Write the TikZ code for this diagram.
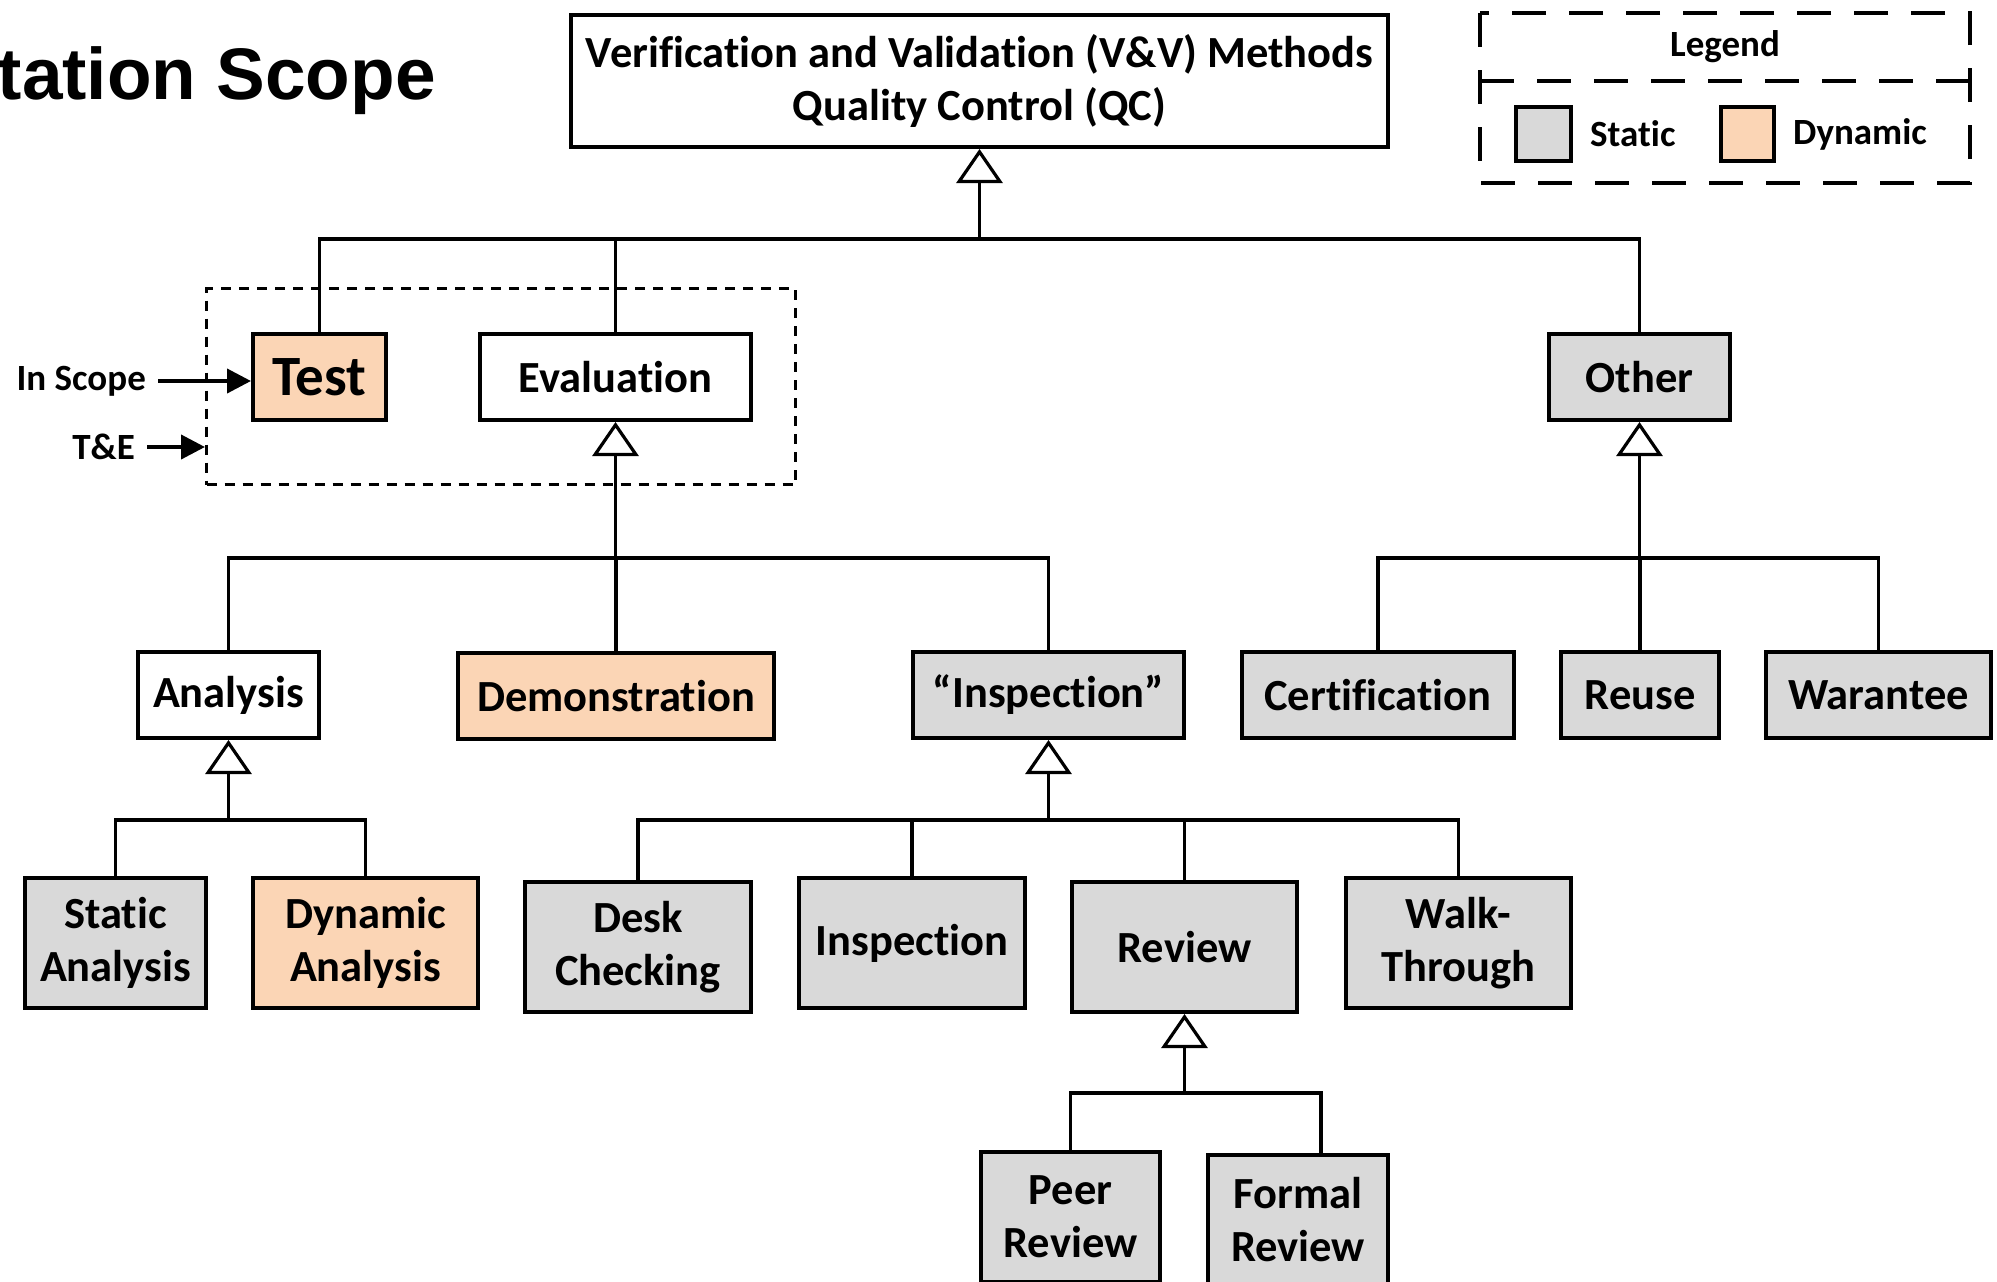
\documentclass[tikz,border=0pt]{standalone}
\usepackage{fontspec}
\setmainfont{Carlito}[Ligatures=NoCommon]
\newfontfamily\titlefont{Liberation Sans}
\usetikzlibrary{arrows.meta}
\definecolor{grayF}{HTML}{D9D9D9}
\definecolor{peachF}{HTML}{FBD5B5}
\tikzset{
  box/.style={draw, line width=4pt, inner sep=0pt, align=center,
    font=\bfseries\fontsize{44.5}{53}\selectfont},
  gbox/.style={box, fill=grayF},
  pbox/.style={box, fill=peachF},
  wbox/.style={box, fill=white},
  conn/.style={line width=3.2pt},
  gen/.style={conn, -{Triangle[open, width=46pt, length=34pt]}},
  lbl/.style={inner sep=0pt, font=\bfseries\fontsize{37}{44}\selectfont},
  pointer/.style={line width=4pt, -{Triangle[width=24pt, length=24pt]}},
}
\begin{document}
\begin{tikzpicture}[x=1pt, y=-1pt]
\useasboundingbox (0,0) rectangle (1997,1282);

% title
\node[anchor=base east, inner sep=0pt, font=\titlefont\bfseries\fontsize{73}{80}\selectfont] (title) at (436,99) {tation Scope};

% legend
\draw[line width=3.5pt, dash pattern=on 34pt off 23pt] (1480,13) rectangle (1970,183);
\draw[line width=3.5pt, dash pattern=on 34pt off 23pt] (1480,81) -- (1970,81);
\node[lbl] (leg) at (1725,47) {Legend};
\node[gbox, minimum width=55pt, minimum height=54pt] (lgs) at (1543.5,134) {};
\node[lbl, anchor=west] (lgst) at (1590,134) {Static};
\node[pbox, minimum width=53pt, minimum height=54pt] (lgd) at (1747.5,134) {};
\node[lbl, anchor=west] (lgdt) at (1793,134) {Dynamic};

% nodes
\node[wbox, minimum width=817pt, minimum height=132pt] (top) at (979.5,81) {Verification and Validation (V\&V) Methods\\Quality Control (QC)};
\node[pbox, minimum width=133pt, minimum height=86pt, font=\bfseries\fontsize{57}{64}\selectfont] (test) at (319.5,377) {Test};
\node[wbox, minimum width=271pt, minimum height=86pt] (eval) at (615.5,377) {Evaluation};
\node[gbox, minimum width=181pt, minimum height=86pt] (other) at (1639.5,377) {Other};
\node[draw, line width=3pt, dash pattern=on 10pt off 8pt, minimum width=589pt, minimum height=196pt, inner sep=0pt] (scope) at (501,386.5) {};

\node[wbox, minimum width=181pt, minimum height=86pt] (ana) at (228.5,695) {Analysis};
\node[pbox, minimum width=316pt, minimum height=86pt] (demo) at (616,696) {Demonstration};
\node[gbox, minimum width=271pt, minimum height=86pt] (insq) at (1048.5,695) {``Inspection''};
\node[gbox, minimum width=272pt, minimum height=86pt] (cert) at (1378,695) {Certification};
\node[gbox, minimum width=158pt, minimum height=86pt] (reuse) at (1640,695) {Reuse};
\node[gbox, minimum width=225pt, minimum height=86pt] (war) at (1878.5,695) {Warantee};

\node[gbox, minimum width=181pt, minimum height=130pt] (sana) at (115.5,943) {Static\\Analysis};
\node[pbox, minimum width=225pt, minimum height=130pt] (dana) at (365.5,943) {Dynamic\\Analysis};
\node[gbox, minimum width=226pt, minimum height=130pt] (desk) at (638,947) {Desk\\Checking};
\node[gbox, minimum width=226pt, minimum height=130pt] (insp) at (912,943) {Inspection};
\node[gbox, minimum width=225pt, minimum height=130pt] (rev) at (1184.5,947) {Review};
\node[gbox, minimum width=225pt, minimum height=130pt] (walk) at (1458.5,943) {Walk-\\Through};

\node[gbox, minimum width=179pt, minimum height=130pt] (peer) at (1070.5,1217) {Peer\\Review};
\node[gbox, minimum width=180pt, minimum height=130pt] (formal) at (1298,1220) {Formal\\Review};

% side labels
\node[lbl, anchor=east] (insc) at (146,381) {In Scope};
\node[lbl, anchor=east] (te) at (135,447) {T\&E};
\draw[pointer, shorten <=12pt] (insc.east) -- (insc.east -| test.west);
\draw[pointer, shorten <=12pt] (te.east) -- (te.east -| scope.west);

% buses
\coordinate (b0) at (979.5,239);
\coordinate (b1) at (615.5,558);
\coordinate (b2) at (1639.5,558);
\coordinate (b3) at (228.5,820);
\coordinate (b4) at (1048.5,820);
\coordinate (b5) at (1184.5,1093);

\draw[conn] (test.north) |- (b0) -| (other.north);
\draw[conn] (eval.north) -- (eval.north |- b0);
\draw[gen] (b0) -- (top.south);

\draw[conn] (ana.north) |- (b1) -| (insq.north);
\draw[conn] (demo.north) -- (demo.north |- b1);
\draw[gen] (b1) -- (eval.south);

\draw[conn] (cert.north) |- (b2) -| (war.north);
\draw[conn] (reuse.north) -- (reuse.north |- b2);
\draw[gen] (b2) -- (other.south);

\draw[conn] (sana.north) |- (b3) -| (dana.north);
\draw[gen] (b3) -- (ana.south);

\draw[conn] (desk.north) |- (b4) -| (walk.north);
\draw[conn] (insp.north) -- (insp.north |- b4);
\draw[conn] (rev.north) -- (rev.north |- b4);
\draw[gen] (b4) -- (insq.south);

\coordinate (fr) at ([xshift=23pt]formal.north);
\draw[conn] (peer.north) |- (b5) -| (fr);
\draw[gen] (b5) -- (rev.south);
\end{tikzpicture}
\end{document}
